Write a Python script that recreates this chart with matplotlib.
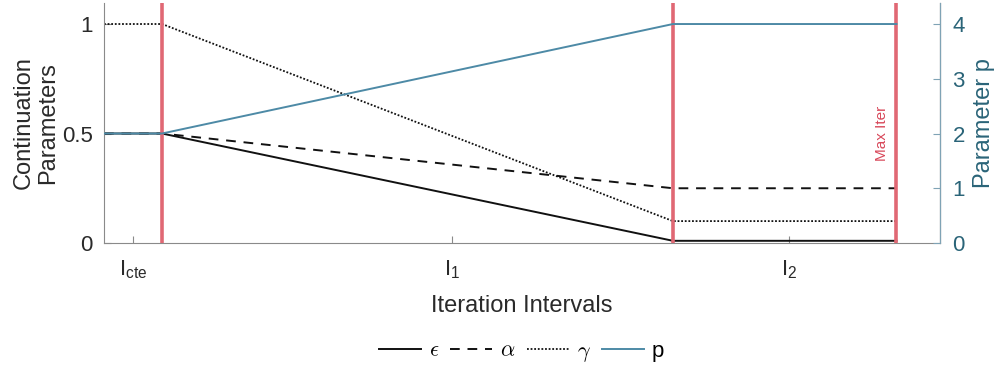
"""Continuation schedule of the penalisation parameters over iteration intervals."""

import matplotlib.pyplot as plt
from matplotlib.font_manager import FontProperties

plt.rcParams["font.family"] = ["Liberation Sans", "DejaVu Sans"]

# ── Schedule (iteration number → parameter value) ────────────────────────────
iters = [0, 20, 196, 273]
eps = [0.5, 0.5, 0.01, 0.01]
alpha = [0.5, 0.5, 0.25, 0.25]
gamma = [1.0, 1.0, 0.1, 0.1]
p_vals = [2, 2, 4, 4]

interval_bounds = [20, 196, 273]          # red separators
interval_ticks = [10, 120, 236]
interval_labels = [r"I$_{\mathregular{cte}}$", r"I$_{\mathregular{1}}$",
                   r"I$_{\mathregular{2}}$"]

RED = "#e06874"
TEAL = "#2a6478"
P_LINE = "#4d8aa6"
GREY = "#8a8a8a"

fig = plt.figure(figsize=(9.97, 3.67), dpi=100)
ax = fig.add_axes([104 / 997, 1 - 243 / 367, (940 - 104) / 997, 240 / 367])
ax2 = ax.twinx()

ax.plot(iters, eps, color="#111", lw=1.4, label=r"$\epsilon$")
ax.plot(iters, alpha, color="#111", lw=1.4, ls=(0, (5, 4)), label=r"$\alpha$")
ax.plot(iters, gamma, color="#111", lw=1.3, ls=(0, (1, 1)), label=r"$\gamma$")
ax2.plot(iters, p_vals, color=P_LINE, lw=1.4, label="p")

for xb in interval_bounds:
    ax.axvline(xb, color=RED, lw=2.6, zorder=5)
ax.text(interval_bounds[-1] - 5, 0.5, "Max Iter", rotation=90, color="#d8485a",
        ha="center", va="center", fontsize=11)

# ── Axes ─────────────────────────────────────────────────────────────────────
ax.set_xlim(0, 288)
ax.set_ylim(0, 1.096)
ax2.set_ylim(0, 4.384)

ax.set_yticks([0, 0.5, 1])
ax.set_yticklabels(["0", "0.5", "1"])
ax.set_xticks(interval_ticks)
ax.set_xticklabels(interval_labels)
ax2.set_yticks([0, 1, 2, 3, 4])

ax.tick_params(axis="both", direction="in", length=5, labelsize=16,
               colors=GREY, labelcolor="#2a2a2a", pad=8)
ax.tick_params(axis="x", pad=11)
ax2.tick_params(axis="y", direction="in", length=5, labelsize=16,
                colors="#7fa3b5", labelcolor=TEAL, pad=9)

ax.set_xlabel("Iteration Intervals", fontsize=17, color="#2a2a2a", labelpad=10)
ax.set_ylabel("Continuation\nParameters", fontsize=17, color="#2a2a2a",
              labelpad=2, linespacing=1.15)
ax2.set_ylabel("Parameter p", fontsize=17, color=TEAL, labelpad=6)

for a in (ax, ax2):
    a.spines["top"].set_visible(False)
ax.spines["left"].set_color(GREY)
ax.spines["bottom"].set_color(GREY)
ax2.spines["left"].set_visible(False)
ax2.spines["bottom"].set_visible(False)
ax2.spines["right"].set_color("#7fa3b5")

h1, l1 = ax.get_legend_handles_labels()
h2, l2 = ax2.get_legend_handles_labels()
fig.legend(h1 + h2, l1 + l2, loc="center", bbox_to_anchor=(0.523, 1 - 352 / 367),
           ncol=4, frameon=False, handlelength=1.9, handletextpad=0.35,
           columnspacing=0.5,
           prop=FontProperties(family="Liberation Sans", size=16,
                               math_fontfamily="cm"))

fig.savefig("out.png", dpi=100)
